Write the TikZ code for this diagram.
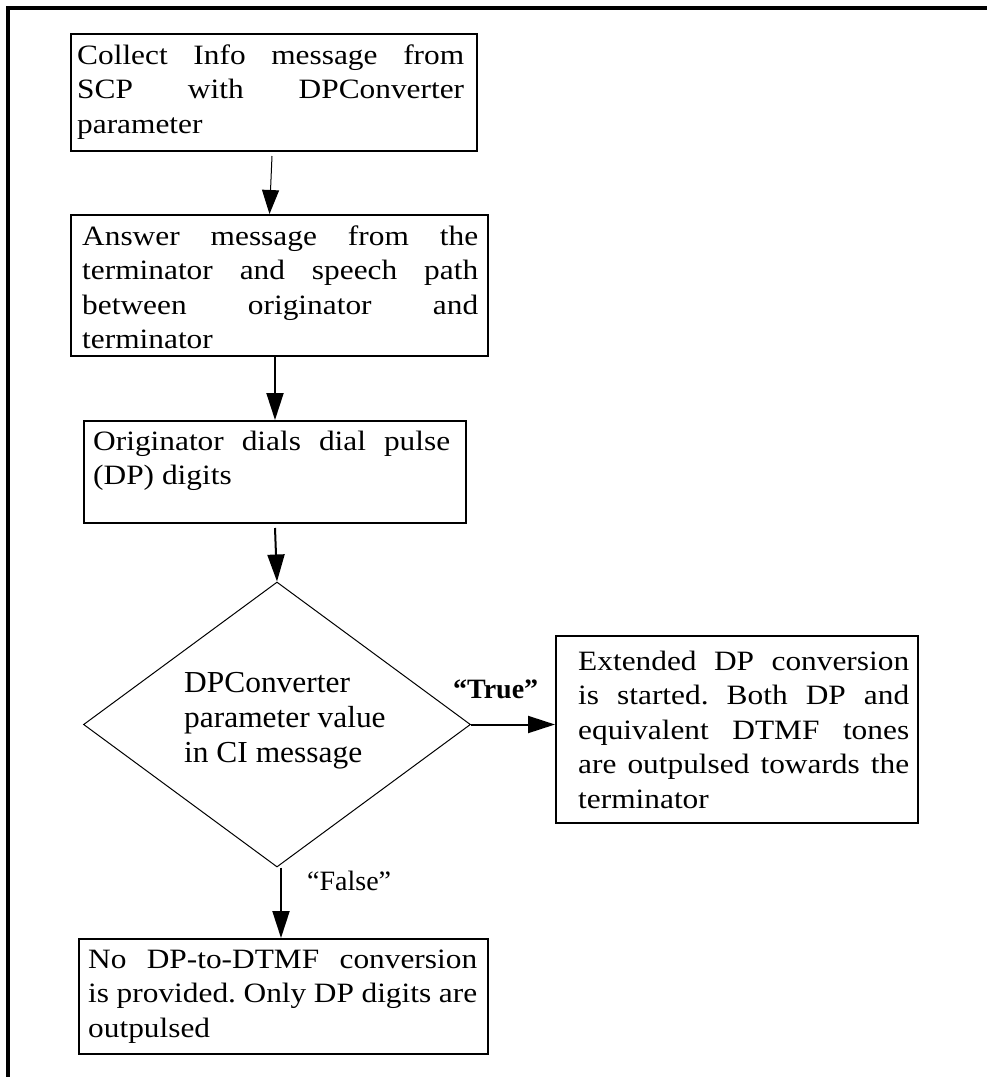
\documentclass[tikz,border=0pt]{standalone}
\usepackage{fontspec}
\setmainfont{Liberation Serif}
\newfontfamily\boxfont{Liberation Serif}[FakeStretch=1.12]
\newfontfamily\diafont{Liberation Serif}[FakeStretch=1.03]
\usetikzlibrary{arrows.meta,shapes.geometric}
\frenchspacing
% one justified line of a box text, spread to the given width
\newcommand\jl[2]{\makebox[#1][s]{\rule{0pt}{22pt}#2}}
% a line set at its natural width
\newcommand\nl[1]{\rule{0pt}{22pt}#1}
\begin{document}
\begin{tikzpicture}[x=1pt,y=-1pt,
  boxnode/.style={draw,line width=2pt,rectangle,inner sep=0pt,anchor=north west},
  txt/.style={inner sep=0pt,anchor=north west,align=left,font={\boxfont\fontsize{28}{34.5}\selectfont}},
  diatxt/.style={inner sep=0pt,anchor=north west,align=left,font={\diafont\fontsize{30.5}{35}\selectfont}},
  lbl/.style={inner sep=0pt,anchor=base west,font={\fontsize{28}{34.5}\selectfont}},
  flow/.style={line width=2pt,-{Triangle[length=27pt,width=17pt]}},
  thinflow/.style={line width=1pt,-{Triangle[length=24pt,width=17pt]}}]
\useasboundingbox (0,0) rectangle (987,1077);
% page frame
\draw[line width=3.3pt] (8,1077) -- (8,8) -- (987,8);

% boxes
\node[boxnode,minimum width=406pt,minimum height=117pt] (b1) at (70,33) {};
\node[boxnode,minimum width=417pt,minimum height=141pt] (b2) at (70,214) {};
\node[boxnode,minimum width=382pt,minimum height=102pt] (b3) at (83,420) {};
\node[boxnode,minimum width=362pt,minimum height=187pt] (b4) at (555,635) {};
\node[boxnode,minimum width=409pt,minimum height=115pt] (b5) at (78,938) {};
\node[draw,line width=1pt,diamond,minimum width=387pt,minimum height=285pt,inner sep=0pt] (dia) at (277,724.5) {};

% texts
\node[txt] (t1) at (77,42) {\jl{387pt}{Collect Info message from}\\
  \jl{387pt}{SCP with DPConverter}\\ \nl{parameter}};
\node[txt] (t2) at (82,223) {\jl{396pt}{Answer message from the}\\
  \jl{396pt}{terminator and speech path}\\
  \jl{396pt}{between originator and}\\ \nl{terminator}};
\node[txt] (t3) at (93,428) {\jl{357pt}{Originator dials dial pulse}\\ \nl{(DP) digits}};
\node[diatxt] (td) at (184,670) {\nl{DPConverter}\\ \nl{parameter value}\\ \nl{in CI message}};
\node[txt] (t4) at (578,648) {\jl{331pt}{Extended DP conversion}\\
  \jl{331pt}{is started. Both DP and}\\
  \jl{331pt}{equivalent DTMF tones}\\
  \jl{331pt}{are outpulsed towards the}\\ \nl{terminator}};
\node[txt] (t5) at (88,946) {\jl{389pt}{No DP-to-DTMF conversion}\\
  \jl{389pt}{is provided. Only DP digits are}\\ \nl{outpulsed}};

% branch labels
\node[lbl] (ltrue) at (453,698) {\bfseries “True”};
\node[lbl] (lfalse) at (307,890) {“False”};

% connectors
\draw[thinflow] ([xshift=-2pt,yshift=-4pt]b1.south) -- ([xshift=-10pt]b2.north);
\draw[flow] (b3.north |- b2.south) -- (b3.north);
\draw[flow] ([yshift=-4pt]b3.south) -- (dia.north);
\draw[flow] (dia.east) -- (dia.east -| b4.west);
\draw[flow] ([xshift=4pt]dia.south) -- ([xshift=4pt]dia.south |- b5.north);
\end{tikzpicture}
\end{document}
